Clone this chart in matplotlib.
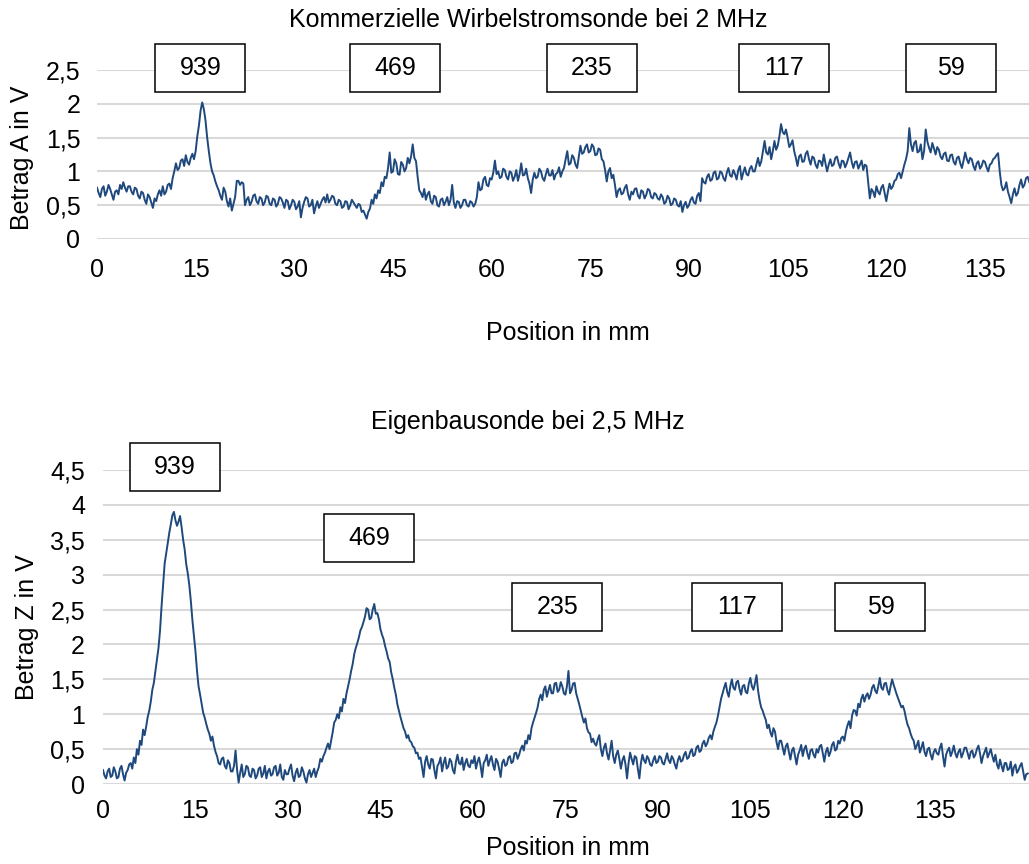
import matplotlib
matplotlib.use("Agg")

import numpy as np
import matplotlib.pyplot as plt
from matplotlib.patches import Rectangle

plt.rcParams["font.family"] = ["Liberation Sans", "DejaVu Sans"]

# --- data (one value every 0.25 mm) ---
STEP_MM = 0.25

# Kommerzielle Wirbelstromsonde, 2 MHz (Betrag A in V), 0 .. 141.75 mm, 5 mm per row
top_signal = [
    0.76, 0.68, 0.62, 0.74, 0.78, 0.64, 0.70, 0.80, 0.74, 0.66, 0.58, 0.70, 0.72, 0.66, 0.80, 0.74, 0.84, 0.76, 0.70, 0.78,
    0.78, 0.70, 0.66, 0.76, 0.74, 0.64, 0.60, 0.70, 0.68, 0.58, 0.52, 0.66, 0.62, 0.54, 0.46, 0.60, 0.56, 0.66, 0.72, 0.64,
    0.78, 0.66, 0.70, 0.80, 0.82, 0.74, 0.90, 1.00, 1.12, 1.02, 1.05, 1.16, 1.18, 1.08, 1.24, 1.14, 1.10, 1.20, 1.26, 1.18,
    1.30, 1.52, 1.68, 1.90, 2.02, 1.92, 1.75, 1.50, 1.30, 1.12, 1.00, 0.94, 0.85, 0.78, 0.72, 0.64, 0.58, 0.76, 0.70, 0.56,
    0.48, 0.60, 0.42, 0.52, 0.62, 0.86, 0.86, 0.80, 0.84, 0.82, 0.50, 0.58, 0.62, 0.50, 0.55, 0.64, 0.66, 0.56, 0.52, 0.62,
    0.60, 0.50, 0.54, 0.64, 0.62, 0.52, 0.50, 0.60, 0.58, 0.48, 0.52, 0.62, 0.60, 0.54, 0.46, 0.58, 0.56, 0.44, 0.50, 0.58,
    0.55, 0.44, 0.48, 0.56, 0.32, 0.46, 0.55, 0.62, 0.60, 0.48, 0.50, 0.58, 0.38, 0.48, 0.56, 0.46, 0.52, 0.58, 0.62, 0.54,
    0.66, 0.54, 0.58, 0.64, 0.62, 0.52, 0.50, 0.58, 0.56, 0.46, 0.48, 0.56, 0.55, 0.44, 0.50, 0.58, 0.54, 0.50, 0.46, 0.52,
    0.50, 0.40, 0.42, 0.36, 0.30, 0.40, 0.45, 0.58, 0.52, 0.66, 0.60, 0.72, 0.68, 0.84, 0.78, 0.92, 0.90, 1.05, 1.28, 0.98,
    1.00, 1.18, 1.12, 0.96, 0.95, 1.14, 1.10, 1.00, 1.05, 1.20, 1.12, 1.22, 1.40, 1.20, 1.15, 0.92, 0.72, 0.68, 0.62, 0.74,
    0.58, 0.66, 0.70, 0.56, 0.52, 0.64, 0.62, 0.50, 0.48, 0.58, 0.60, 0.50, 0.55, 0.62, 0.50, 0.58, 0.80, 0.54, 0.46, 0.56,
    0.55, 0.46, 0.50, 0.58, 0.58, 0.50, 0.48, 0.56, 0.54, 0.48, 0.52, 0.62, 0.84, 0.72, 0.74, 0.88, 0.92, 0.80, 0.78, 0.90,
    0.88, 0.98, 1.16, 0.96, 1.00, 0.90, 0.92, 1.04, 1.02, 0.92, 0.88, 1.00, 0.98, 0.86, 0.92, 1.02, 0.86, 0.96, 1.12, 0.94,
    0.95, 1.04, 0.90, 0.82, 0.68, 0.88, 0.98, 0.90, 0.92, 1.04, 1.00, 0.90, 0.86, 0.96, 1.04, 0.94, 0.94, 1.02, 0.88, 0.96,
    0.98, 1.06, 0.92, 1.00, 1.05, 1.18, 1.30, 1.10, 1.12, 1.24, 1.20, 1.10, 1.05, 1.22, 1.38, 1.26, 1.28, 1.36, 1.40, 1.28,
    1.30, 1.40, 1.36, 1.24, 1.25, 1.34, 1.32, 1.18, 1.15, 1.02, 0.85, 1.00, 1.05, 0.90, 0.95, 0.80, 0.62, 0.72, 0.75, 0.66,
    0.68, 0.76, 0.80, 0.66, 0.58, 0.70, 0.66, 0.74, 0.75, 0.64, 0.60, 0.72, 0.70, 0.60, 0.65, 0.74, 0.72, 0.62, 0.60, 0.68,
    0.66, 0.60, 0.58, 0.66, 0.62, 0.52, 0.55, 0.64, 0.60, 0.50, 0.52, 0.60, 0.58, 0.50, 0.48, 0.56, 0.40, 0.50, 0.55, 0.46,
    0.50, 0.58, 0.62, 0.54, 0.52, 0.64, 0.68, 0.56, 0.90, 0.84, 0.82, 0.92, 0.96, 0.86, 0.88, 0.98, 1.00, 0.88, 0.90, 1.00,
    0.98, 0.90, 0.86, 0.98, 1.05, 0.94, 0.92, 1.02, 0.96, 0.88, 1.02, 1.08, 0.88, 0.98, 1.06, 0.96, 0.94, 1.04, 1.08, 1.00,
    1.00, 1.10, 1.20, 1.08, 1.15, 1.30, 1.45, 1.28, 1.25, 1.36, 1.18, 1.30, 1.45, 1.32, 1.38, 1.52, 1.70, 1.58, 1.55, 1.62,
    1.50, 1.36, 1.40, 1.46, 1.30, 1.20, 1.08, 1.22, 1.25, 1.14, 1.15, 1.26, 1.30, 1.18, 1.10, 1.22, 1.20, 1.10, 1.05, 1.16,
    1.15, 1.08, 1.25, 1.12, 1.00, 1.10, 1.18, 1.08, 1.10, 1.20, 1.22, 1.12, 1.05, 1.16, 1.15, 1.06, 1.12, 1.20, 1.28, 1.14,
    1.05, 1.14, 1.15, 1.04, 1.10, 1.16, 1.02, 1.10, 1.08, 0.84, 0.60, 0.74, 0.70, 0.62, 0.78, 0.70, 0.66, 0.76, 0.80, 0.68,
    0.56, 0.70, 0.82, 0.74, 0.78, 0.86, 0.88, 0.96, 0.98, 0.90, 1.00, 1.10, 1.18, 1.30, 1.64, 1.40, 1.30, 1.42, 1.45, 1.28,
    1.30, 1.40, 1.18, 1.30, 1.62, 1.44, 1.35, 1.28, 1.42, 1.34, 1.25, 1.36, 1.32, 1.22, 1.18, 1.26, 1.28, 1.16, 1.15, 1.24,
    1.25, 1.14, 1.10, 1.20, 1.22, 1.12, 1.05, 1.16, 1.28, 1.18, 1.12, 1.20, 1.18, 1.08, 1.02, 1.12, 1.15, 1.04, 1.08, 1.16,
    1.14, 1.06, 1.00, 1.10, 1.12, 1.18, 1.20, 1.24, 1.27, 1.00, 0.80, 0.72, 0.75, 0.84, 0.70, 0.62, 0.53, 0.66, 0.75, 0.64,
    0.68, 0.80, 0.88, 0.76, 0.80, 0.90, 0.92, 0.84,
]

# Eigenbausonde, 2,5 MHz (Betrag Z in V), 0 .. 150 mm, 5 mm per row
bottom_signal = [
    0.20, 0.12, 0.08, 0.18, 0.22, 0.10, 0.12, 0.24, 0.18, 0.08, 0.10, 0.22, 0.26, 0.14, 0.05, 0.16, 0.20, 0.28, 0.30, 0.22,
    0.38, 0.30, 0.50, 0.42, 0.62, 0.56, 0.78, 0.70, 0.82, 0.96, 1.05, 1.18, 1.35, 1.45, 1.62, 1.80, 1.95, 2.20, 2.55, 2.85,
    3.16, 3.30, 3.45, 3.60, 3.72, 3.85, 3.90, 3.78, 3.70, 3.76, 3.84, 3.68, 3.50, 3.36, 3.15, 3.02, 2.85, 2.62, 2.35, 2.12,
    1.90, 1.62, 1.40, 1.28, 1.15, 1.02, 0.95, 0.86, 0.78, 0.72, 0.62, 0.68, 0.55, 0.46, 0.40, 0.30, 0.28, 0.36, 0.38, 0.26,
    0.22, 0.34, 0.30, 0.18, 0.18, 0.26, 0.48, 0.20, 0.02, 0.16, 0.28, 0.10, 0.14, 0.26, 0.24, 0.12, 0.10, 0.22, 0.20, 0.08,
    0.12, 0.22, 0.24, 0.10, 0.15, 0.26, 0.08, 0.18, 0.22, 0.12, 0.14, 0.24, 0.26, 0.12, 0.16, 0.28, 0.10, 0.06, 0.20, 0.14,
    0.14, 0.22, 0.28, 0.12, 0.04, 0.16, 0.22, 0.10, 0.12, 0.24, 0.18, 0.08, 0.02, 0.14, 0.20, 0.10, 0.16, 0.22, 0.10, 0.18,
    0.24, 0.36, 0.32, 0.40, 0.45, 0.52, 0.58, 0.50, 0.62, 0.74, 0.88, 0.92, 1.00, 0.94, 1.10, 1.04, 1.22, 1.16, 1.30, 1.40,
    1.50, 1.62, 1.72, 1.86, 1.95, 2.02, 2.10, 2.20, 2.25, 2.32, 2.40, 2.52, 2.50, 2.36, 2.38, 2.50, 2.58, 2.44, 2.45, 2.36,
    2.22, 2.14, 2.08, 1.98, 1.90, 1.80, 1.75, 1.60, 1.50, 1.38, 1.28, 1.14, 1.05, 0.96, 0.88, 0.80, 0.75, 0.66, 0.70, 0.62,
    0.60, 0.54, 0.52, 0.44, 0.45, 0.36, 0.38, 0.24, 0.10, 0.32, 0.40, 0.28, 0.22, 0.36, 0.35, 0.20, 0.08, 0.26, 0.30, 0.38,
    0.18, 0.30, 0.38, 0.22, 0.25, 0.36, 0.32, 0.20, 0.15, 0.32, 0.42, 0.30, 0.28, 0.38, 0.20, 0.30, 0.36, 0.26, 0.24, 0.34,
    0.30, 0.40, 0.22, 0.32, 0.38, 0.26, 0.10, 0.30, 0.34, 0.42, 0.26, 0.34, 0.40, 0.28, 0.20, 0.36, 0.32, 0.22, 0.10, 0.30,
    0.35, 0.26, 0.28, 0.38, 0.40, 0.30, 0.32, 0.44, 0.45, 0.36, 0.42, 0.50, 0.55, 0.48, 0.62, 0.58, 0.70, 0.64, 0.80, 0.88,
    0.95, 1.02, 1.10, 1.22, 1.28, 1.20, 1.35, 1.40, 1.25, 1.34, 1.42, 1.30, 1.30, 1.44, 1.45, 1.32, 1.35, 1.46, 1.40, 1.30,
    1.28, 1.40, 1.62, 1.30, 1.35, 1.44, 1.45, 1.30, 1.22, 1.14, 1.05, 0.96, 0.88, 0.94, 0.80, 0.74, 0.72, 0.60, 0.65, 0.58,
    0.55, 0.64, 0.70, 0.50, 0.40, 0.52, 0.58, 0.44, 0.35, 0.48, 0.62, 0.40, 0.30, 0.42, 0.48, 0.36, 0.22, 0.34, 0.40, 0.28,
    0.08, 0.30, 0.45, 0.36, 0.28, 0.40, 0.38, 0.22, 0.08, 0.30, 0.42, 0.34, 0.30, 0.40, 0.36, 0.28, 0.26, 0.34, 0.40, 0.30,
    0.32, 0.40, 0.38, 0.30, 0.28, 0.36, 0.44, 0.34, 0.30, 0.40, 0.36, 0.28, 0.22, 0.34, 0.40, 0.32, 0.34, 0.42, 0.46, 0.36,
    0.38, 0.46, 0.50, 0.40, 0.42, 0.52, 0.55, 0.46, 0.48, 0.58, 0.62, 0.54, 0.58, 0.66, 0.70, 0.64, 0.75, 0.82, 0.88, 0.98,
    1.10, 1.22, 1.30, 1.38, 1.45, 1.32, 1.25, 1.40, 1.50, 1.38, 1.35, 1.46, 1.48, 1.36, 1.28, 1.40, 1.42, 1.32, 1.30, 1.44,
    1.52, 1.40, 1.35, 1.44, 1.56, 1.34, 1.20, 1.10, 1.05, 0.98, 0.92, 0.80, 0.85, 0.74, 0.68, 0.80, 0.75, 0.60, 0.50, 0.62,
    0.62, 0.52, 0.42, 0.54, 0.58, 0.46, 0.35, 0.48, 0.52, 0.40, 0.28, 0.42, 0.48, 0.56, 0.40, 0.50, 0.55, 0.44, 0.36, 0.48,
    0.50, 0.42, 0.38, 0.50, 0.45, 0.54, 0.56, 0.44, 0.32, 0.46, 0.52, 0.40, 0.46, 0.56, 0.60, 0.48, 0.50, 0.62, 0.58, 0.66,
    0.68, 0.62, 0.75, 0.84, 0.90, 0.80, 0.98, 1.06, 1.05, 0.98, 1.15, 1.10, 1.22, 1.28, 1.18, 1.26, 1.30, 1.22, 1.28, 1.38,
    1.42, 1.34, 1.30, 1.40, 1.52, 1.38, 1.35, 1.44, 1.45, 1.34, 1.28, 1.40, 1.50, 1.42, 1.35, 1.28, 1.22, 1.16, 1.10, 1.12,
    1.05, 0.94, 0.85, 0.80, 0.72, 0.66, 0.62, 0.50, 0.55, 0.62, 0.45, 0.52, 0.60, 0.46, 0.40, 0.50, 0.52, 0.42, 0.35, 0.46,
    0.50, 0.44, 0.42, 0.52, 0.58, 0.40, 0.25, 0.42, 0.48, 0.52, 0.40, 0.46, 0.55, 0.44, 0.38, 0.46, 0.50, 0.38, 0.44, 0.52,
    0.52, 0.44, 0.36, 0.46, 0.48, 0.38, 0.42, 0.50, 0.55, 0.44, 0.30, 0.40, 0.46, 0.52, 0.38, 0.44, 0.50, 0.40, 0.32, 0.42,
    0.28, 0.22, 0.35, 0.26, 0.18, 0.30, 0.30, 0.20, 0.22, 0.32, 0.12, 0.24, 0.28, 0.16, 0.20, 0.26, 0.30, 0.18, 0.06, 0.14,
    0.15,
]

x_ticks = [0, 15, 30, 45, 60, 75, 90, 105, 120, 135]
top_y_ticks = [0, 0.5, 1, 1.5, 2, 2.5]
top_y_labels = ["0", "0,5", "1", "1,5", "2", "2,5"]
bottom_y_ticks = [0, 0.5, 1, 1.5, 2, 2.5, 3, 3.5, 4, 4.5]
bottom_y_labels = ["0", "0,5", "1", "1,5", "2", "2,5", "3", "3,5", "4", "4,5"]

box_labels = ["939", "469", "235", "117", "59"]
top_box_x = [15.7, 45.3, 75.2, 104.4, 129.9]
top_box_y = [2.53, 2.53, 2.53, 2.53, 2.53]
bottom_box_x = [11.6, 43.2, 73.7, 102.8, 126.1]
bottom_box_y = [4.54, 3.53, 2.53, 2.53, 2.53]

LINE_COLOR = "#1F497D"
GRID_COLOR = "#D9D9D9"
FS = 18
W, H = 1029, 864
BOX_W, BOX_H = 90, 48

fig = plt.figure(figsize=(W / 100, H / 100), dpi=100)


def px_axes(left, top, right, bottom):
    return fig.add_axes([left / W, 1 - bottom / H, (right - left) / W, (bottom - top) / H])


def style_axes(ax, yticks, ylabels, xpad, ypad):
    for s in ax.spines.values():
        s.set_visible(False)
    ax.set_xticks(x_ticks)
    ax.set_xticklabels([str(t) for t in x_ticks], fontsize=FS)
    ax.set_yticks(yticks)
    ax.set_yticklabels(ylabels, fontsize=FS)
    ax.tick_params(axis="both", length=0)
    ax.tick_params(axis="x", pad=xpad)
    ax.tick_params(axis="y", pad=ypad)
    ax.grid(axis="y", color=GRID_COLOR, linewidth=1.5)
    ax.set_axisbelow(True)


def add_box(ax, xc, yc, text):
    cx, cy = ax.transData.transform((xc, yc))
    rect = Rectangle(((cx - BOX_W / 2) / W, (cy - BOX_H / 2) / H), BOX_W / W, BOX_H / H,
                     transform=fig.transFigure, facecolor="white", edgecolor="black",
                     linewidth=1.1, zorder=5)
    fig.add_artist(rect)
    fig.text(cx / W, cy / H, text, ha="center", va="center", fontsize=FS, zorder=6)


# top chart
ax1 = px_axes(97, 70, 1029, 239)
x_top = np.arange(len(top_signal)) * STEP_MM
ax1.plot(x_top, top_signal, color=LINE_COLOR, linewidth=1.4)
ax1.set_xlim(0, 141.7)
ax1.set_ylim(0, 2.5)
style_axes(ax1, top_y_ticks, top_y_labels, xpad=14, ypad=12)
for xc, yc, lab in zip(top_box_x, top_box_y, box_labels):
    add_box(ax1, xc, yc, lab)

fig.text(528 / W, 1 - 20 / H, "Kommerzielle Wirbelstromsonde bei 2 MHz", ha="center", va="center", fontsize=FS)
fig.text(568 / W, 1 - 333 / H, "Position in mm", ha="center", va="center", fontsize=FS)
fig.text(22 / W, 1 - 158 / H, "Betrag A in V", ha="center", va="center", rotation=90, fontsize=FS)

# bottom chart
ax2 = px_axes(103, 470, 1029, 784)
x_bot = np.arange(len(bottom_signal)) * STEP_MM
ax2.plot(x_bot, bottom_signal, color=LINE_COLOR, linewidth=1.4)
ax2.set_xlim(0, 150.2)
ax2.set_ylim(0, 4.5)
style_axes(ax2, bottom_y_ticks, bottom_y_labels, xpad=11, ypad=13)
for xc, yc, lab in zip(bottom_box_x, bottom_box_y, box_labels):
    add_box(ax2, xc, yc, lab)

fig.text(528 / W, 1 - 422 / H, "Eigenbausonde bei 2,5 MHz", ha="center", va="center", fontsize=FS)
fig.text(568 / W, 1 - 848 / H, "Position in mm", ha="center", va="center", fontsize=FS)
fig.text(27 / W, 1 - 627 / H, "Betrag Z in V", ha="center", va="center", rotation=90, fontsize=FS)

fig.savefig("out.png", dpi=100)
